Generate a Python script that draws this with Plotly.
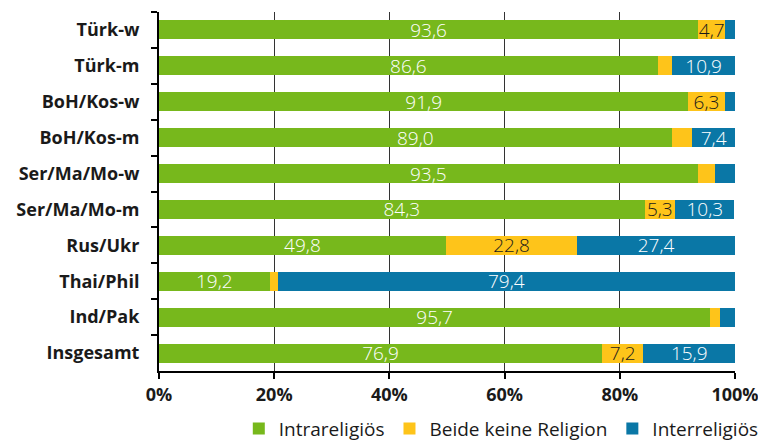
import plotly.graph_objects as go

categories = ["Türk-w", "Türk-m", "BoH/Kos-w", "BoH/Kos-m", "Ser/Ma/Mo-w",
              "Ser/Ma/Mo-m", "Rus/Ukr", "Thai/Phil", "Ind/Pak", "Insgesamt"]
intra = [93.6, 86.6, 91.9, 89.0, 93.5, 84.3, 49.8, 19.2, 95.7, 76.9]
keine = [4.7, 2.5, 6.3, 3.6, 3.0, 5.3, 22.8, 1.4, 1.7, 7.2]
inter = [1.7, 10.9, 1.8, 7.4, 3.5, 10.3, 27.4, 79.4, 2.6, 15.9]
x_ticks = [0, 20, 40, 60, 80, 100]
x_ticklabels = ["0%", "20%", "40%", "60%", "80%", "100%"]


def labels(vals):
    return [f"{v:.1f}".replace(".", ",") if v >= 4 else "" for v in vals]


series = [
    ("Intrareligiös", intra, "#77b81c", "white"),
    ("Beide keine Religion", keine, "#fec41a", "#1a1a1a"),
    ("Interreligiös", inter, "#0a77a6", "white"),
]

fig = go.Figure()
for name, vals, color, tcolor in series:
    fig.add_trace(go.Bar(
        y=categories, x=vals, name=name, orientation="h",
        marker=dict(color=color, line=dict(width=0)),
        text=labels(vals), textposition="inside", insidetextanchor="middle",
        textfont=dict(color=tcolor, size=19, family="Open Sans", weight=300),
        textangle=0, hoverinfo="skip",
    ))

# page body has an 8px margin: figure is sized so the plot area lands at
# x 159..735 and y 12..371 in the window
fig.update_layout(
    width=758, height=435,
    barmode="stack", bargap=0.47,
    margin=dict(l=151, r=31, t=4, b=72, autoexpand=False),
    plot_bgcolor="white", paper_bgcolor="white",
    font=dict(family="Open Sans", color="#1a1a1a"),
    uniformtext=dict(minsize=19, mode="show"),
    showlegend=True,
    legend=dict(orientation="h", x=1.05, xanchor="right", y=-0.108, yanchor="top",
                font=dict(size=19, family="Open Sans", color="#1a1a1a"),
                traceorder="normal", itemwidth=30, tracegroupgap=0),
    xaxis=dict(range=[0, 100], tickvals=x_ticks, ticktext=x_ticklabels,
               showgrid=True, gridcolor="#333333", gridwidth=1,
               showline=True, linecolor="black", linewidth=2,
               ticks="outside", ticklen=6, tickwidth=2, tickcolor="black",
               tickfont=dict(size=18, family="Open Sans", weight="bold", color="#1a1a1a"),
               ticklabeloverflow="allow",
               zeroline=False, fixedrange=True, automargin=False),
    yaxis=dict(categoryorder="array", categoryarray=categories, autorange="reversed",
               showline=True, linecolor="black", linewidth=2,
               ticks="outside", tickson="boundaries", ticklen=6, tickwidth=2, tickcolor="black",
               tickfont=dict(size=18, family="Open Sans", weight="bold", color="#1a1a1a"),
               ticklabelstandoff=14, showgrid=False, automargin=False),
)

fig.write_html("out.html")
